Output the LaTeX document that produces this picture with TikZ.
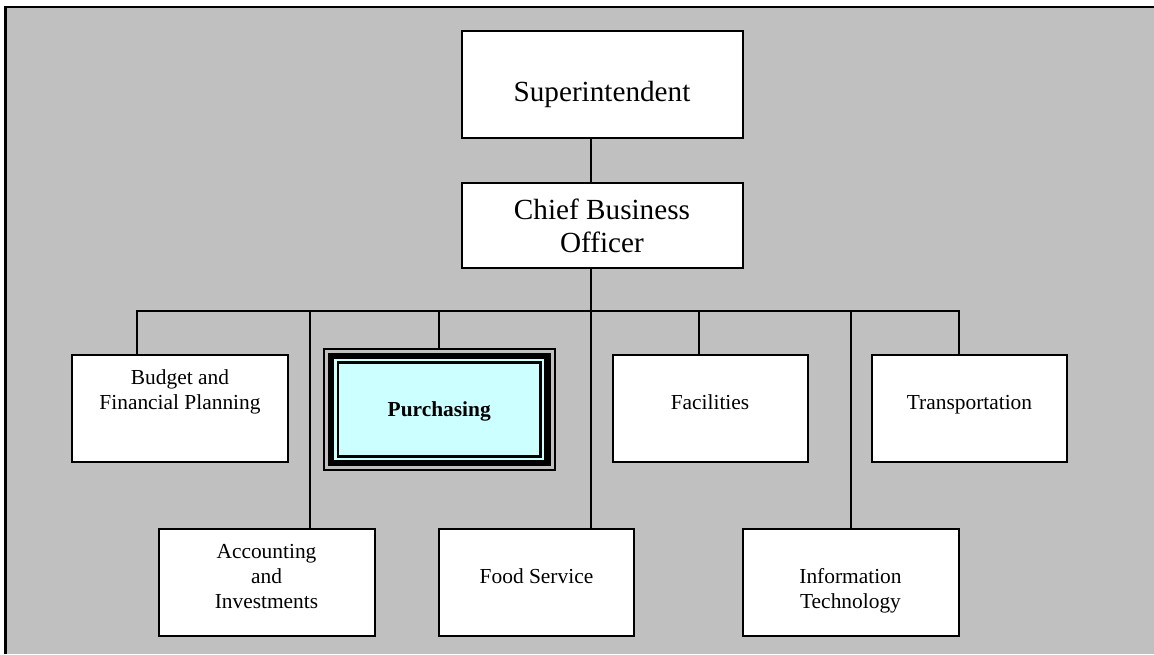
\documentclass[tikz,border=0pt]{standalone}
\usepackage{fontspec}
\setmainfont{Liberation Serif}
\usetikzlibrary{positioning}

\definecolor{panel}{HTML}{C0C0C0}
\definecolor{focusfill}{HTML}{CCFFFF}

% text lines of a box, lifted by #1 without changing the box size
\newcommand{\boxlines}[2]{\raisebox{#1}[\height][\depth]{\begin{tabular}{@{}c@{}}#2\end{tabular}}}

\begin{document}
\begin{tikzpicture}[
  x=1pt, y=-1pt,
  head/.style={
    draw=black, fill=white, line width=2pt,
    minimum width=281pt, inner sep=0pt,
    font=\fontsize{29.2}{33}\selectfont
  },
  unit/.style={
    draw=black, fill=white, line width=2pt,
    minimum width=216pt, minimum height=107pt, inner sep=0pt,
    font=\fontsize{21.4}{25}\selectfont
  },
  narrow/.style={unit, minimum width=195pt},
  rim/.style={draw=black, line width=2pt, minimum width=230.5pt, minimum height=120.5pt, inner sep=0pt},
  band/.style={draw=black, fill=focusfill, line width=6.5pt, minimum width=216.5pt, minimum height=107pt, inner sep=0pt},
  focus/.style={unit, fill=focusfill, line width=2.5pt, minimum width=202.5pt, minimum height=94pt},
  link/.style={draw=black, line width=1.8pt, line cap=rect},
]
\useasboundingbox (0,0) rectangle (1154,654);

% ===== Panel =====
\fill[panel] (5,7) rectangle (1154,654);
\draw[line width=2.6pt] (5.3,654) -- (5.3,7) -- (1154,7);

% ===== Top of the chart =====
\node[head, minimum height=107pt] (sup) at (602,84) {\boxlines{-11pt}{Superintendent}};
\node[head, minimum height=85pt, below=43pt of sup] (cbo) {\boxlines{-4.5pt}{Chief Business\\Officer}};

% ===== Departments, upper row =====
\node[unit] (budget) at (180,408.5) {\boxlines{16.5pt}{Budget and\\Financial Planning}};

\coordinate (pc) at (439.25,409.25);
\node[rim] (purchrim) at (pc) {};
\node[band] (purchband) at (pc) {};
\node[focus] (purch) at (pc) {\boxlines{-2pt}{\textbf{Purchasing}}};

\node[narrow] (fac) at (710,408.5) {\boxlines{4.5pt}{Facilities}};
\node[narrow] (trans) at (969.5,408.5) {\boxlines{4.5pt}{Transportation}};

% ===== Departments, lower row =====
\node[unit] (acct) at (266.5,582) {\boxlines{4pt}{Accounting\\and\\Investments}};
\node[narrow] (food) at (536.5,582) {\boxlines{4pt}{Food Service}};
\node[unit] (it) at (850.5,582) {\boxlines{-8.5pt}{Information\\Technology}};

% ===== Lines =====
\coordinate (trunk) at (591,311);
\draw[link] (sup.south -| trunk) -- (cbo.north -| trunk);
\draw[link] (cbo.south -| trunk) -- (food.north -| trunk);

\foreach \n/\x in {budget/137, acct/310, purchrim/439, fac/699, it/851, trans/959}{
  \coordinate (j\n) at (\x,311);
  \draw[link] (j\n) -- (j\n |- \n.north);
}
\draw[link] (jbudget) -- (jtrans);

\end{tikzpicture}
\end{document}
